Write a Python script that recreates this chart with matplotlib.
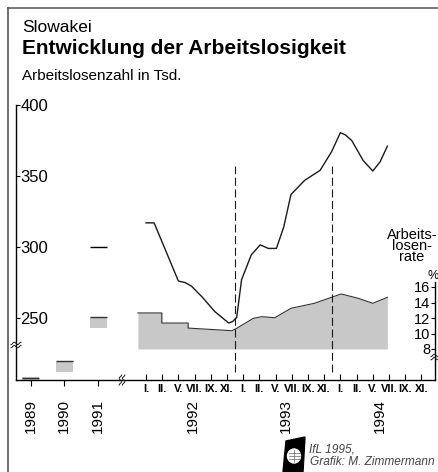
import numpy as np
import matplotlib
matplotlib.use("Agg")
import matplotlib.pyplot as plt
from matplotlib.lines import Line2D
from matplotlib.patches import Polygon, Circle

# ---------------- data ----------------
early_years = ['1989', '1990', '1991']
early_count = [4, 40, 251]              # Arbeitslosenzahl in Tsd.
early_count_end = [np.nan, np.nan, 300]  # year-end value 1991
early_rate_lo = [0.0, 0.6, 10.75]       # Arbeitslosenrate in %
early_rate_hi = [0.2, 1.5, 12.1]

years = ['1992', '1993', '1994']
month_labels = ['I.', 'II.', 'V.', 'VII.', 'IX.', 'XI.']

# months since Jan 1992
count_month = [0, 1, 4, 4.8, 5.6, 6.9, 8.5, 10.2, 10.7, 11.2, 11.8, 13.0,
               14.1, 15.1, 16.1, 17.0, 17.9, 19.6, 21.5, 22.9, 24.0, 24.6,
               25.4, 26.8, 28.0, 28.9, 29.8]
count_value = [317, 317, 276, 275, 272.5, 265, 254.5, 246.5, 247.5, 250.5,
               277, 294.5, 301.5, 299, 299, 314, 337, 347, 354, 367, 380.5,
               379, 375, 361, 353.5, 360, 371]

rate_month = [-1.0, 1.95, 1.95, 5.2, 5.2, 10.6, 11.2, 12.2, 13.25, 14.3,
              15.9, 17.9, 20.8, 22.9, 24.1, 26.2, 28.0, 29.8]
rate_value = [12.65, 12.65, 11.35, 11.35, 10.7, 10.36, 10.67, 11.3, 11.96,
              12.17, 12.04, 13.25, 13.9, 14.67, 15.1, 14.54, 13.9, 14.67]

divider_month = [11, 23]   # Dec 1992, Dec 1993

# ---------------- layout ----------------
W, H = 438, 472
AX_L, AX_R, AX_B, AX_T = 16, 435, 380, 105
PX_PER_MONTH = 8.1
JAN92_X = 146
early_slot = [-14.2, -10.1, -5.9]       # x positions of 1989..1991
year_label_x = [5.8, 17.3, 28.9]
GRAY = '#c8c8c8'
DARK = '#1a1a1a'
FONT = ['Liberation Sans', 'DejaVu Sans']
NARROW = ['Liberation Sans Narrow', 'Liberation Sans', 'DejaVu Sans']

plt.rcParams['font.family'] = FONT
plt.rcParams['lines.scale_dashes'] = False

def fx(x):
  return x / W

def fy(y):
  return 1 - y / H

# broken axis scales (pixels above the x axis)
CNT_V = [0, 60, 230, 400, 1000]
CNT_P = [0, 28.8, 33.6, 33.6 + 170 * 1.42, 33.6 + 770 * 1.42]
RATE_V = [0, 2, 8, 40, 100]
RATE_P = [0, 25.4, 31, 31 + 32 * 7.75, 31 + 92 * 7.75]

def cnt_fwd(v):
  return np.interp(v, CNT_V, CNT_P)

def cnt_inv(p):
  return np.interp(p, CNT_P, CNT_V)

def rate_fwd(v):
  return np.interp(v, RATE_V, RATE_P)

def rate_inv(p):
  return np.interp(p, RATE_P, RATE_V)

fig = plt.figure(figsize=(W / 100, H / 100), dpi=100)
ax = fig.add_axes([fx(AX_L), fy(AX_B), (AX_R - AX_L) / W, (AX_B - AX_T) / H])
ax2 = ax.twinx()
ax.set_zorder(ax2.get_zorder() + 1)
ax.patch.set_visible(False)

ax.set_yscale('function', functions=(cnt_fwd, cnt_inv))
ax2.set_yscale('function', functions=(rate_fwd, rate_inv))
ax.set_ylim(0, 400)
ax2.set_ylim(0, rate_inv(AX_B - AX_T))
ax.set_xlim((AX_L - JAN92_X) / PX_PER_MONTH, (AX_R - JAN92_X) / PX_PER_MONTH)

# ---- rate (gray area) ----
ax2.fill_between(rate_month, 8, rate_value, color=GRAY, lw=0)
ax2.plot(rate_month, rate_value, color='#333333', lw=0.8)
ax2.bar(early_slot, np.subtract(early_rate_hi, early_rate_lo),
  bottom=early_rate_lo, width=2.1, color=GRAY, lw=0)

# ---- count (line) ----
ax.plot(count_month, count_value, color=DARK, lw=1.0, solid_joinstyle='round')
ax.hlines(early_count, np.subtract(early_slot, 1.05),
  np.add(early_slot, 1.05), color='#333333', lw=1.0)
ax.hlines(early_count_end, np.subtract(early_slot, 1.05),
  np.add(early_slot, 1.05), color='black', lw=1.0)

for m in divider_month:
  ax.axvline(m, ymin=0.029, ymax=0.778, color=DARK, lw=0.8,
    linestyle=(0, (5.8, 2.6)))

# ---- spines ----
for s in ['top', 'right']:
  ax.spines[s].set_visible(False)
for s in ['top', 'left', 'bottom']:
  ax2.spines[s].set_visible(False)
ax.spines['left'].set_linewidth(1.0)
ax.spines['bottom'].set_linewidth(1.0)
ax2.spines['right'].set_linewidth(1.0)
ax2.spines['right'].set_bounds(0, 16.6)

# ---- y ticks (labels inside the axes) ----
ax.set_yticks([250, 300, 350, 400])
ax.set_yticklabels(['250', '300', '350', '400'])
ax.tick_params(axis='y', direction='in', length=3, width=0.8, pad=-3.3,
  labelsize=12)
for lbl in ax.get_yticklabels():
  lbl.set_horizontalalignment('left')

ax2.set_yticks([8, 10, 12, 14, 16])
ax2.set_yticklabels(['8', '10', '12', '14', '16'])
ax2.tick_params(axis='y', direction='in', length=3, width=0.8, pad=-3.5,
  labelsize=10.5)
for lbl in ax2.get_yticklabels():
  lbl.set_horizontalalignment('right')

# ---- x ticks ----
ax.set_xticks(np.arange(0, 36, 2))
ax.set_xticklabels(month_labels * 3, fontweight='bold', fontsize=8,
  family=NARROW)
ax.tick_params(axis='x', which='major', direction='in', length=4.5,
  width=0.8, pad=3.0)
ax.set_xticks(early_slot, minor=True)
ax.tick_params(axis='x', which='minor', direction='out', length=4.5,
  width=0.8, labelbottom=False)

for name, m in zip(early_years + years, early_slot + year_label_x):
  ax.annotate(name, xy=(m, 0), xycoords=('data', 'axes fraction'),
    xytext=(0, -13.5), textcoords='offset points', rotation=90,
    ha='center', va='top', fontsize=11)

# ---- axis break marks ----
def squiggle(cx, cy, vertical):
  t = np.linspace(-1, 1, 20)
  for off in (-1.6, 1.6):
    a = t * 5
    b = np.sin(t * np.pi * 1.5) * 1.2 + off
    xs, ys = (cx + b, cy + a) if vertical else (cx + a, cy + b)
    fig.add_artist(Line2D(fx(xs), fy(ys), color=DARK, lw=0.7))

squiggle(16, 345, False)
squiggle(122, 380, True)
squiggle(436, 357, False)

# ---- texts ----
fig.text(fx(22), fy(32.5), 'Slowakei', fontsize=12.5, va='baseline')
fig.text(fx(22), fy(53.5), 'Entwicklung der Arbeitslosigkeit', fontsize=15,
  fontweight='bold', va='baseline')
fig.text(fx(22), fy(80), 'Arbeitslosenzahl in Tsd.', fontsize=11,
  va='baseline')
fig.text(fx(412), fy(246), 'Arbeits-\nlosen-\nrate', fontsize=10.5,
  ha='center', va='center', multialignment='center', linespacing=0.72)
fig.text(fx(433), fy(276), '%', fontsize=9, ha='center', va='center')
fig.text(fx(309), fy(449), 'IfL 1995,', fontsize=8.6, style='italic',
  color='#444444', va='center')
fig.text(fx(310), fy(462), 'Grafik: M. Zimmermann', fontsize=8.6,
  style='italic', color='#444444', va='center')

# ---- logo ----
logo = [(fx(x), fy(y)) for x, y in [(286, 441), (305, 437), (303, 472),
  (283, 472)]]
fig.add_artist(Polygon(logo, closed=True, color='black'))
fig.add_artist(Circle((fx(294), fy(456)), 6.5 / W, color='white'))
for dy in (-3, 0, 3):
  fig.add_artist(Line2D([fx(288.5), fx(299.5)], [fy(456 + dy)] * 2,
    color='#666666', lw=0.5))
fig.add_artist(Line2D([fx(294)] * 2, [fy(450), fy(462)], color='#666666',
  lw=0.5))

# ---- frame ----
fig.add_artist(Line2D([fx(8), fx(438)], [fy(8), fy(8)], color='#777777',
  lw=1.4))
fig.add_artist(Line2D([fx(8), fx(8)], [fy(8), fy(472)], color='#555555',
  lw=1.2))

fig.savefig('out.png', dpi=100)
